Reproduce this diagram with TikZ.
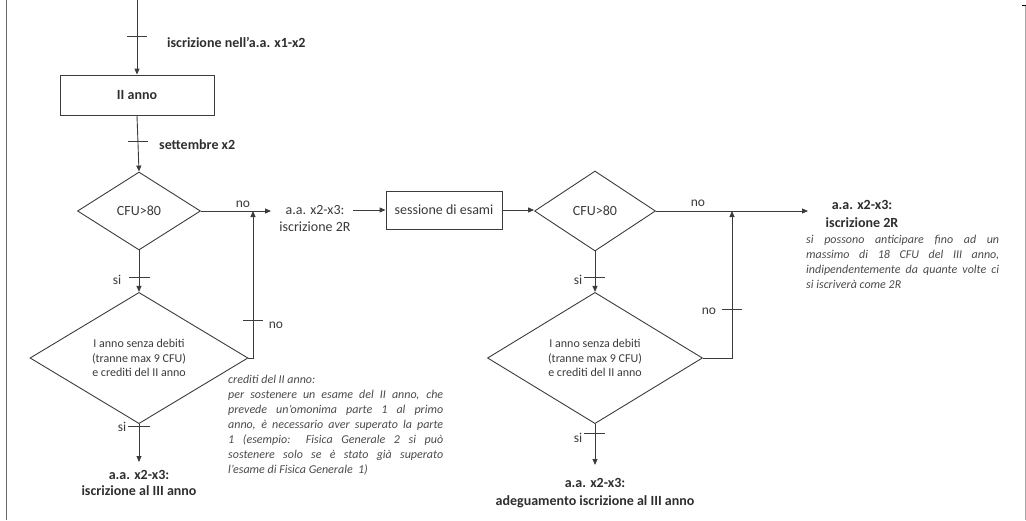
\documentclass[tikz,border=0pt]{standalone}
\usepackage{fontspec}
\setmainfont{Carlito}
\usetikzlibrary{shapes.geometric,arrows.meta}
\definecolor{linec}{HTML}{3C3C3C}
\definecolor{txtc}{HTML}{3A3A3A}
\definecolor{txtb}{HTML}{2E2E2E}
\definecolor{txti}{HTML}{4A4A4A}
\definecolor{framec}{HTML}{6A6A6A}
\hyphenpenalty=10000
\exhyphenpenalty=10000
\begin{document}
\begin{tikzpicture}[x=1pt,y=-1pt,
  line/.style={draw=linec, line width=0.9pt},
  arr/.style={line, -{Triangle[length=6pt,width=5pt]}},
  boxn/.style={draw=linec, line width=0.9pt, rectangle, inner sep=0pt, text=txtc},
  dia/.style={draw=linec, line width=0.9pt, diamond, inner sep=0pt, text=txtc, align=center},
  lbl/.style={font=\fontsize{13.5}{16}\selectfont, text=txtc, inner sep=0pt},
  blbl/.style={font=\bfseries\fontsize{14}{16.5}\selectfont, text=txtb, align=center, inner sep=0pt},
  nlbl/.style={font=\fontsize{14}{17}\selectfont, text=txtc, align=center, inner sep=0pt},
  note/.style={font=\itshape\fontsize{12}{15}\selectfont, text=txti, align=justify, inner sep=0pt, anchor=north west}
]
\useasboundingbox (0,0) rectangle (1026,520);
% frame lines
\draw[framec, line width=1pt] (6,0) -- (6,520);
\draw[gray!70, line width=1pt] (1025.5,5) -- (1025.5,520);
\draw[black, line width=0.8pt] (1022,5) -- (1026,5);

% nodes
\coordinate (s0) at (137,0);
\node[boxn, minimum width=154pt, minimum height=40pt, font=\bfseries\fontsize{14}{17}\selectfont, text=txtb] (b1) at (137,95) {II anno};
\node[dia, minimum width=123pt, minimum height=78pt, font=\fontsize{14}{17}\selectfont] (d1) at (139,211) {CFU>80};
\node[dia, minimum width=218pt, minimum height=100pt, font=\fontsize{12}{14.5}\selectfont] (d3) at (139,358) {I anno senza debiti\\(tranne max 9 CFU)\\e crediti del II anno};
\node[nlbl] (t2r) at (315,219) {a.a. x2-x3:\\iscrizione 2R};
\node[boxn, minimum width=116pt, minimum height=38pt, font=\fontsize{14}{17}\selectfont] (b2) at (444,210) {sessione di esami};
\node[dia, minimum width=121pt, minimum height=80pt, font=\fontsize{14}{17}\selectfont] (d2) at (595,211) {CFU>80};
\node[dia, minimum width=215pt, minimum height=97pt, font=\fontsize{12}{14.5}\selectfont] (d4) at (595,358) {I anno senza debiti\\(tranne max 9 CFU)\\e crediti del II anno};
\node[blbl, font=\bfseries\fontsize{14}{18}\selectfont] (t2rb) at (862,214) {a.a. x2-x3:\\iscrizione 2R};
\node[blbl, font=\bfseries\fontsize{14}{15.5}\selectfont] (e1) at (139,483) {a.a. x2-x3:\\iscrizione al III anno};
\node[blbl, font=\bfseries\fontsize{14}{17.5}\selectfont] (e2) at (595,493) {a.a. x2-x3:\\adeguamento iscrizione al III anno};

\node[blbl, anchor=west] (l1) at (167,42) {iscrizione nell'a.a. x1-x2};
\node[blbl, anchor=west] (l2) at (159,145) {settembre x2};

\node[note, text width=215pt] (n1) at (228,375) {crediti del II anno:\\per sostenere un esame del II anno, che\linebreak prevede un'omonima parte 1 al primo\linebreak anno, è necessario aver superato la parte\linebreak 1 (esempio: Fisica Generale 2 si può\linebreak sostenere solo se è stato già superato\linebreak l'esame di Fisica Generale~~1)};
\node[note, text width=193pt] (n2) at (806,235) {si possono anticipare fino ad un\linebreak massimo di 18 CFU del III anno,\linebreak indipendentemente da quante volte ci\linebreak si iscriverà come 2R};

% small labels
\node[lbl] (no1) at (243,204) {no};
\node[lbl] (no2) at (276,325) {no};
\node[lbl] (no3) at (698,203) {no};
\node[lbl] (no4) at (709,311) {no};
\node[lbl] (si1) at (117,280) {si};
\node[lbl] (si2) at (122,427) {si};
\node[lbl] (si3) at (578,280) {si};
\node[lbl] (si4) at (578,438) {si};

% coordinates
\coordinate (a1) at (271,211);
\coordinate (b0) at (353,210);
\coordinate (a2) at (808,211);
\coordinate (lL1) at (253,358);
\coordinate (lL2) at (253,211);
\coordinate (lR1) at (732,358);
\coordinate (lR2) at (732,211);
\coordinate (f1) at (139,462);
\coordinate (f2) at (595,465);

% connectors
\draw[arr] (s0) -- (b1.north);
\draw[arr] (b1.south) -- (d1.north);
\draw[arr] (d1.east) -- (a1);
\draw[arr] (b0) -- (b2.west);
\draw[arr] (b2.east) -- (b2.east -| d2.west);
\draw[arr] (d2.east) -- (a2);
\draw[arr] (d1.south) -- (d3.north);
\draw[arr] (d3.east) -- (lL1) -- (lL2);
\draw[arr] (d3.south) -- (f1);
\draw[arr] (d2.south) -- (d4.north);
\draw[arr] (d4.east) -- (lR1) -- (lR2);
\draw[arr] (d4.south) -- (f2);

% ticks
\draw[line] (127,36) -- (147,36);
\draw[line] (128,141) -- (148,141);
\draw[line] (129,277) -- (150,277);
\draw[line] (243,320) -- (263,320);
\draw[line] (128,426) -- (150,426);
\draw[line] (584,277) -- (605,277);
\draw[line] (722,309) -- (742,309);
\draw[line] (584,433) -- (605,433);
\end{tikzpicture}
\end{document}
